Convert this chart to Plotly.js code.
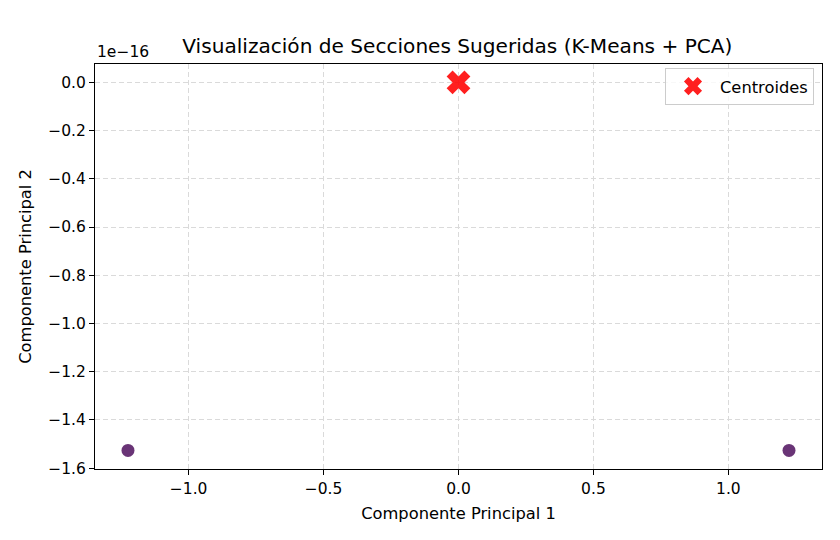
<!DOCTYPE html>
<html><head><meta charset="utf-8">
<script src="https://cdn.plot.ly/plotly-3.0.1.min.js"></script>
<style>body{margin:0;}#chart{width:840px;height:540px;}</style>
</head><body><div id="chart"></div>
<script>
const pointsX = [-1.224744871391589, 1.224744871391589];
const pointsY = [-1.5265566588595902e-16, -1.5265566588595902e-16];
const centroidX = [0.0];
const centroidY = [0.0];
const yTickVals = [0.0, -0.2, -0.4, -0.6, -0.8, -1.0, -1.2, -1.4, -1.6];
const xTickVals = [-1.0, -0.5, 0.0, 0.5, 1.0];
const yScale = 1e-16;

const tickFont = {family: 'DejaVu Sans', size: 15.5, color: '#000'};
const labelFont = {family: 'DejaVu Sans', size: 16.3, color: '#000'};
const traces = [
  {x: pointsX, y: pointsY, type: 'scatter', mode: 'markers', showlegend: false,
   marker: {color: 'rgba(68,1,84,0.8)', size: 13}},
  {x: centroidX, y: centroidY, type: 'scatter', mode: 'markers', name: 'Centroides',
   marker: {color: 'rgba(255,0,0,0.88)', size: 21, symbol: 'x'}}
];
const fmt = v => (v < 0 ? '\u2212' : '') + Math.abs(v).toFixed(1);
const axBase = {showline: true, mirror: true, linecolor: '#000', linewidth: 1,
  ticks: 'outside', ticklen: 5, tickcolor: '#000', showgrid: true, gridcolor: '#dadada',
  griddash: '5px,3px', zeroline: false, tickfont: tickFont};
const layout = {
  width: 840, height: 540, paper_bgcolor: '#fff', plot_bgcolor: '#fff',
  margin: {l: 95, r: 18, t: 64, b: 71},
  font: tickFont,
  title: {text: 'Visualización de Secciones Sugeridas (K-Means + PCA)', font: {family: 'DejaVu Sans', size: 20.1, color: '#000'}, x: 0.5445, xanchor: 'center', y: 0.915, yanchor: 'middle'},
  xaxis: Object.assign({}, axBase, {range: [-1.347, 1.347], tickvals: xTickVals, ticktext: xTickVals.map(fmt),
    title: {text: 'Componente Principal 1', font: labelFont, standoff: 10}}),
  yaxis: Object.assign({}, axBase, {range: [-1.6035e-16, 0.0763e-16], tickvals: yTickVals.map(v => v * yScale), ticktext: yTickVals.map(fmt),
    title: {text: 'Componente Principal 2', font: labelFont, standoff: 12}}),
  legend: {x: 0.989, xanchor: 'right', y: 0.99, yanchor: 'top', itemwidth: 44, bgcolor: 'rgba(255,255,255,0.8)', bordercolor: '#cccccc', borderwidth: 1, font: labelFont},
  annotations: [{text: '1e\u221216', xref: 'paper', yref: 'paper', x: 0, y: 1, xanchor: 'left', yanchor: 'bottom', yshift: 1, showarrow: false, font: tickFont}]
};
Plotly.newPlot('chart', traces, layout, {displayModeBar: false});
</script></body></html>
